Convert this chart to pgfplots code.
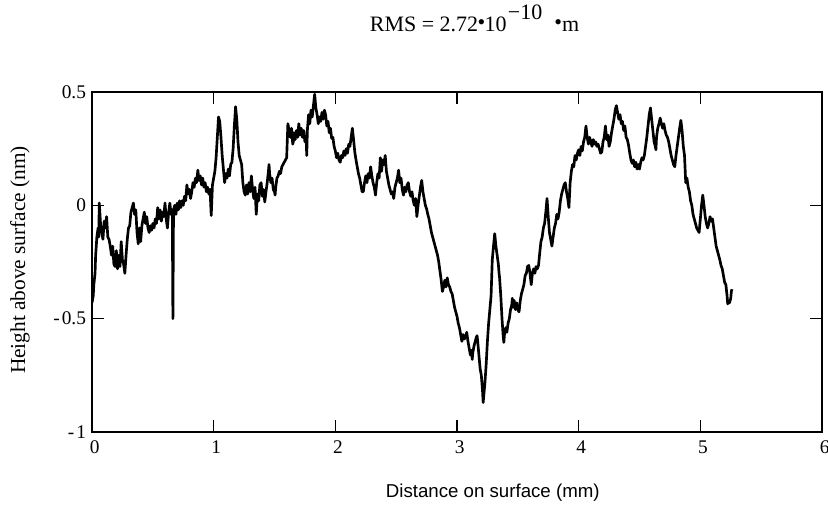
\documentclass[border=0pt]{standalone}
\usepackage{pgfplots}
\pgfplotsset{compat=1.18}
\usepackage{fontspec}
\setmainfont{Liberation Serif}
\newfontfamily\arialfont{Liberation Sans}
\pgfplotstableread{
x y
0.000 -0.43
0.010 -0.40
0.015 -0.35
0.025 -0.30
0.030 -0.22
0.040 -0.14
0.050 -0.10
0.055 -0.14
0.060 0.01
0.070 -0.08
0.080 -0.12
0.090 -0.15
0.100 -0.07
0.110 -0.10
0.120 -0.05
0.130 -0.14
0.140 -0.15
0.150 -0.18
0.160 -0.22
0.170 -0.18
0.180 -0.26
0.190 -0.27
0.200 -0.20
0.210 -0.28
0.220 -0.22
0.230 -0.27
0.240 -0.16
0.250 -0.24
0.260 -0.26
0.270 -0.30
0.280 -0.22
0.290 -0.15
0.300 -0.10
0.310 -0.09
0.320 -0.03
0.330 -0.01
0.340 0.01
0.350 -0.04
0.360 -0.02
0.370 -0.12
0.380 -0.17
0.390 -0.10
0.400 -0.16
0.410 -0.09
0.420 -0.06
0.430 -0.03
0.440 -0.08
0.450 -0.05
0.460 -0.10
0.470 -0.12
0.480 -0.09
0.490 -0.11
0.500 -0.08
0.510 -0.10
0.520 -0.06
0.530 -0.08
0.540 -0.01
0.550 -0.06
0.560 -0.02
0.570 -0.07
0.580 -0.03
0.590 -0.05
0.600 0.01
0.610 -0.06
0.620 -0.10
0.630 -0.03
0.640 0.01
0.650 -0.04
0.660 -0.02
0.665 -0.50
0.670 -0.02
0.680 0.00
0.690 -0.04
0.700 0.01
0.710 -0.02
0.720 0.02
0.730 -0.01
0.740 0.02
0.750 0.00
0.760 0.04
0.770 0.02
0.780 0.09
0.790 0.05
0.800 0.07
0.810 0.03
0.820 0.06
0.830 0.10
0.840 0.08
0.850 0.12
0.860 0.10
0.870 0.155
0.880 0.11
0.890 0.13
0.900 0.09
0.910 0.12
0.920 0.08
0.930 0.10
0.940 0.06
0.950 0.08
0.960 0.05
0.970 0.07
0.980 -0.045
0.990 0.09
1.000 0.12
1.010 0.15
1.020 0.21
1.030 0.30
1.040 0.39
1.050 0.37
1.060 0.30
1.065 0.26
1.070 0.22
1.080 0.16
1.090 0.10
1.100 0.14
1.110 0.12
1.120 0.16
1.130 0.13
1.140 0.18
1.150 0.19
1.160 0.25
1.170 0.35
1.180 0.435
1.190 0.38
1.200 0.28
1.210 0.22
1.220 0.20
1.230 0.18
1.240 0.10
1.250 0.06
1.260 0.045
1.270 0.09
1.280 0.05
1.290 0.10
1.300 0.06
1.310 0.13
1.320 0.07
1.330 0.03
1.340 0.08
1.350 -0.04
1.360 0.05
1.370 0.02
1.380 0.09
1.390 0.10
1.400 0.04
1.410 0.07
1.420 0.015
1.430 0.06
1.440 0.10
1.450 0.15
1.455 0.18
1.460 0.14
1.470 0.10
1.480 0.12
1.490 0.07
1.500 0.06
1.505 0.045
1.510 0.08
1.520 0.12
1.530 0.13
1.540 0.15
1.550 0.14
1.560 0.17
1.570 0.18
1.580 0.19
1.590 0.20
1.600 0.21
1.610 0.36
1.620 0.33
1.630 0.30
1.640 0.34
1.650 0.27
1.655 0.28
1.660 0.32
1.670 0.29
1.680 0.33
1.690 0.30
1.700 0.36
1.710 0.31
1.720 0.34
1.730 0.30
1.740 0.33
1.750 0.28
1.760 0.30
1.765 0.22
1.770 0.33
1.780 0.40
1.790 0.36
1.800 0.42
1.810 0.39
1.820 0.44
1.830 0.49
1.840 0.43
1.850 0.40
1.860 0.36
1.870 0.39
1.880 0.37
1.890 0.41
1.900 0.38
1.910 0.42
1.920 0.40
1.930 0.35
1.940 0.37
1.950 0.32
1.960 0.34
1.970 0.295
1.980 0.30
1.990 0.26
2.000 0.24
2.010 0.21
2.020 0.23
2.030 0.20
2.040 0.19
2.050 0.22
2.060 0.21
2.070 0.24
2.080 0.22
2.090 0.25
2.100 0.23
2.110 0.27
2.120 0.26
2.130 0.30
2.140 0.34
2.150 0.29
2.160 0.235
2.170 0.20
2.180 0.17
2.190 0.14
2.200 0.12
2.210 0.09
2.220 0.06
2.230 0.06
2.240 0.10
2.250 0.13
2.260 0.10
2.270 0.14
2.280 0.12
2.290 0.17
2.300 0.13
2.310 0.10
2.320 0.08
2.330 0.045
2.340 0.10
2.350 0.14
2.360 0.12
2.370 0.21
2.380 0.15
2.390 0.20
2.400 0.18
2.410 0.22
2.420 0.15
2.430 0.12
2.440 0.09
2.450 0.07
2.460 0.05
2.470 0.06
2.480 0.03
2.490 0.08
2.500 0.10
2.510 0.12
2.520 0.155
2.530 0.10
2.540 0.12
2.550 0.07
2.560 0.045
2.570 0.08
2.580 0.06
2.590 0.09
2.600 0.10
2.610 0.06
2.620 0.04
2.630 0.06
2.640 0.02
2.650 0.00
2.660 0.03
2.670 -0.05
2.680 0.00
2.690 0.04
2.700 0.08
2.710 0.11
2.720 0.06
2.730 0.03
2.740 0.00
2.750 -0.015
2.760 -0.04
2.770 -0.06
2.780 -0.09
2.790 -0.12
2.800 -0.14
2.810 -0.16
2.820 -0.18
2.830 -0.20
2.840 -0.22
2.850 -0.25
2.860 -0.29
2.870 -0.33
2.880 -0.38
2.890 -0.36
2.900 -0.33
2.910 -0.36
2.920 -0.32
2.930 -0.35
2.940 -0.36
2.950 -0.38
2.960 -0.39
2.970 -0.42
2.980 -0.45
2.990 -0.47
3.000 -0.49
3.010 -0.52
3.020 -0.54
3.030 -0.57
3.040 -0.60
3.050 -0.57
3.060 -0.59
3.070 -0.58
3.080 -0.56
3.090 -0.60
3.100 -0.63
3.110 -0.66
3.120 -0.64
3.125 -0.68
3.130 -0.65
3.140 -0.62
3.150 -0.60
3.160 -0.58
3.165 -0.575
3.170 -0.60
3.180 -0.66
3.190 -0.72
3.200 -0.75
3.210 -0.82
3.215 -0.87
3.220 -0.84
3.230 -0.78
3.240 -0.70
3.250 -0.60
3.260 -0.52
3.270 -0.46
3.280 -0.40
3.290 -0.24
3.300 -0.18
3.310 -0.125
3.320 -0.18
3.330 -0.22
3.340 -0.26
3.345 -0.295
3.350 -0.32
3.360 -0.40
3.370 -0.50
3.380 -0.58
3.385 -0.605
3.390 -0.57
3.400 -0.54
3.410 -0.56
3.420 -0.52
3.430 -0.50
3.440 -0.46
3.450 -0.44
3.455 -0.41
3.460 -0.45
3.470 -0.42
3.480 -0.46
3.490 -0.43
3.500 -0.46
3.510 -0.47
3.520 -0.42
3.530 -0.39
3.540 -0.37
3.550 -0.35
3.560 -0.31
3.570 -0.30
3.580 -0.27
3.590 -0.265
3.600 -0.30
3.610 -0.35
3.620 -0.30
3.630 -0.28
3.640 -0.30
3.650 -0.27
3.660 -0.28
3.670 -0.265
3.680 -0.21
3.690 -0.16
3.700 -0.14
3.710 -0.10
3.720 -0.08
3.730 -0.03
3.740 0.03
3.750 -0.05
3.760 -0.12
3.770 -0.15
3.780 -0.18
3.790 -0.14
3.800 -0.10
3.810 -0.08
3.820 -0.04
3.830 -0.06
3.840 -0.03
3.850 0.02
3.860 0.05
3.870 0.07
3.880 0.09
3.890 0.10
3.900 0.06
3.910 0.03
3.920 -0.01
3.930 0.10
3.940 0.15
3.950 0.18
3.960 0.17
3.970 0.22
3.980 0.20
3.990 0.23
4.000 0.245
4.010 0.22
4.020 0.26
4.030 0.24
4.040 0.28
4.050 0.30
4.060 0.35
4.070 0.30
4.080 0.27
4.090 0.30
4.100 0.28
4.110 0.26
4.120 0.29
4.130 0.27
4.140 0.28
4.150 0.26
4.160 0.27
4.170 0.25
4.180 0.23
4.190 0.235
4.200 0.28
4.210 0.30
4.220 0.35
4.230 0.29
4.240 0.31
4.250 0.26
4.260 0.28
4.270 0.32
4.280 0.35
4.290 0.38
4.300 0.42
4.310 0.44
4.320 0.41
4.330 0.38
4.340 0.40
4.350 0.36
4.360 0.37
4.370 0.33
4.380 0.35
4.390 0.30
4.400 0.29
4.410 0.265
4.420 0.23
4.430 0.20
4.440 0.185
4.450 0.20
4.460 0.17
4.470 0.19
4.480 0.16
4.490 0.18
4.500 0.16
4.510 0.19
4.520 0.21
4.530 0.20
4.540 0.22
4.550 0.26
4.560 0.30
4.570 0.35
4.580 0.40
4.590 0.43
4.600 0.38
4.610 0.33
4.620 0.28
4.630 0.26
4.635 0.245
4.640 0.30
4.650 0.34
4.660 0.36
4.670 0.385
4.680 0.36
4.690 0.34
4.700 0.36
4.710 0.33
4.720 0.31
4.730 0.30
4.740 0.28
4.750 0.25
4.760 0.22
4.770 0.20
4.780 0.18
4.790 0.17
4.800 0.22
4.810 0.26
4.820 0.30
4.830 0.34
4.840 0.375
4.850 0.33
4.860 0.26
4.870 0.22
4.880 0.10
4.890 0.12
4.900 0.08
4.910 0.06
4.920 0.02
4.930 0.00
4.940 -0.04
4.950 -0.06
4.960 -0.08
4.970 -0.10
4.980 -0.11
4.990 -0.12
5.000 -0.06
5.010 0.00
5.020 0.045
5.030 0.00
5.040 -0.05
5.050 -0.08
5.060 -0.10
5.070 -0.08
5.080 -0.05
5.090 -0.07
5.100 -0.06
5.110 -0.10
5.120 -0.14
5.130 -0.18
5.140 -0.20
5.150 -0.22
5.160 -0.24
5.170 -0.265
5.180 -0.28
5.190 -0.31
5.200 -0.34
5.210 -0.35
5.220 -0.40
5.225 -0.435
5.230 -0.42
5.240 -0.43
5.250 -0.41
5.255 -0.38
5.260 -0.37
}\profile
\begin{document}
\begin{tikzpicture}
\begin{axis}[
  at={(0,0)}, anchor=south west,
  scale only axis, width=547.5pt, height=255pt,
  xmin=0, xmax=6, ymin=-1, ymax=0.5,
  xtick={0,1,2,3,4,5,6}, xticklabels={0,1,2,3,4,5,6},
  ytick={-1,-0.5,0,0.5}, yticklabels={{-\kern1.5pt1},{-\kern1.5pt0.5},0,0.5},
  tick align=inside, major tick length=9pt,
  tick style={black, line width=0.8pt},
  axis line style={black, line width=1.1pt},
  ticklabel style={font=\fontsize{14.5}{16}\selectfont},
  xticklabel style={yshift=-3pt, xshift=2pt},
  yticklabel style={xshift=-1pt},
  title style={at={(0.524,1.155)}, anchor=base, font=\fontsize{16.5}{18}\selectfont},
  title={RMS = 2.72\kern-0.5pt\raisebox{0.15ex}{\textbullet}\kern-0.5pt10\raisebox{8.5pt}{\kern1pt−10}\kern9pt\raisebox{0.15ex}{\textbullet}m},
  xlabel style={at={(0.549,-0.179)}, anchor=center, font=\arialfont\fontsize{14}{16}\selectfont},
  xlabel={Distance on surface (mm)},
  ylabel style={at={(-0.0986,0.506)}, anchor=center, rotate=0, font=\fontsize{16}{18}\selectfont},
  ylabel={Height above surface (nm)},
]
\addplot[black, line width=2pt, line join=round] table[x=x,y=y] {\profile};
\end{axis}
\pgfresetboundingbox
\path[use as bounding box] (-69pt,-63pt) rectangle (552pt,324pt);
\end{tikzpicture}
\end{document}
